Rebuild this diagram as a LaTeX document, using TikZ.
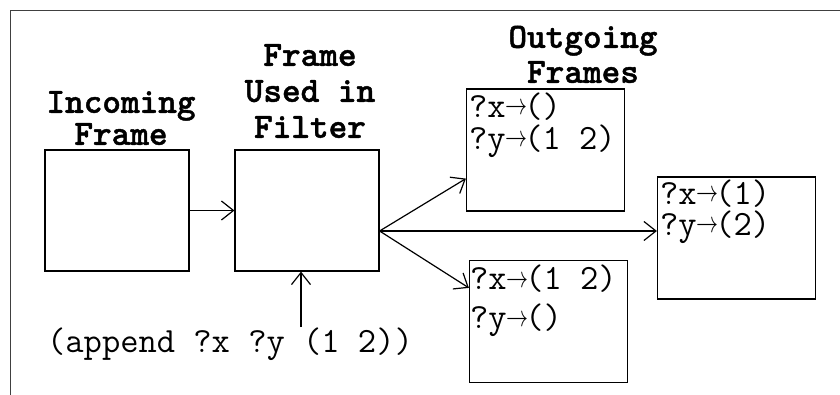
\documentclass[tikz,border=0pt]{standalone}
\usepackage{fontspec}
\usepackage{graphicx}
\newfontfamily\headfont{lmmonolt10-bold}[Extension=.otf, FakeBold=1.2]
\usetikzlibrary{arrows.meta,calc}
% binding arrow, a little wider than one character cell
\newcommand\bindsto{\makebox[0.525em][l]{\raisebox{2.5pt}{\fontsize{10}{10}\selectfont\scalebox{2.2}[3]{$\rightarrow$}}}}

\tikzset{
  frm/.style={draw, line width=1.2pt, inner sep=0pt, minimum width=144pt, minimum height=121pt},
  outfrm/.style={draw, line width=1.2pt, inner sep=0pt, minimum width=158pt, minimum height=122pt},
  heading/.style={font=\fontsize{35.5}{35}\selectfont\headfont, align=center, inner sep=0pt, text depth=0pt, anchor=south},
  binding/.style={font=\fontsize{35.5}{32}\selectfont\ttfamily, align=left, inner sep=0pt, anchor=base west},
  tip/.style={-{Straight Barb[length=12pt,width=19pt]}, line width=1.2pt},
}

\begin{document}
\begin{tikzpicture}[x=1pt,y=-1pt]
	\useasboundingbox (0,0) rectangle (840,395);
	\clip (0,0) rectangle (840,395);
	%BORDER
	\draw[line width=1.5pt, black!75] (10.5,10.5) rectangle (880,430);

	%FRAMES
	\node[frm] (incoming) at (117,210.5) {};
	\node[frm] (filter) at (307,210.5) {};
	\node[outfrm] (outA) at (545.5,150) {};
	\node[outfrm] (outB) at (548.5,321.5) {};
	\node[outfrm] (outC) at (736.5,238) {};

	%HEADINGS
	\node[heading] (inlabel) at (121,145) {Incoming\\[-3pt]Frame};
	\node[heading] (filterlabel) at (310,138) {Frame\\[1pt]Used in\\[1pt]Filter};
	\node[heading] (outlabel) at (583,83) {Outgoing\\Frames};

	%BINDINGS (anchored on the last line)
	\node[binding] (bindA) at ($(outA.north west)+(3,61)$) {?x\bindsto()\\?y\bindsto(1 2)};
	\node[binding] (bindC) at ($(outC.north west)+(3,59)$) {?x\bindsto(1)\\[-1pt]?y\bindsto(2)};
	\node[binding] (bindB) at ($(outB.north west)+(1,69)$) {?x\bindsto(1 2)\\[7pt]?y\bindsto()};

	%QUERY
	\node[font=\fontsize{35.5}{35}\selectfont\ttfamily, inner sep=0pt, anchor=base] (query) at (230,352) {(append ?x ?y (1 2))};
	\coordinate (qtop) at (301,327);

	%ARROWS
	\coordinate (fan) at (filter.east |- 0,231);
	\draw[tip] (incoming.east) -- (filter.west);
	\draw[tip] (qtop) -- (qtop |- filter.south);
	\draw[tip] (fan) -- ([yshift=33pt]outA.south west);
	\draw[tip] (fan) -- (fan -| outC.west);
	\draw[tip] (fan) -- ([yshift=-28pt]outB.north west);
\end{tikzpicture}
\end{document}
